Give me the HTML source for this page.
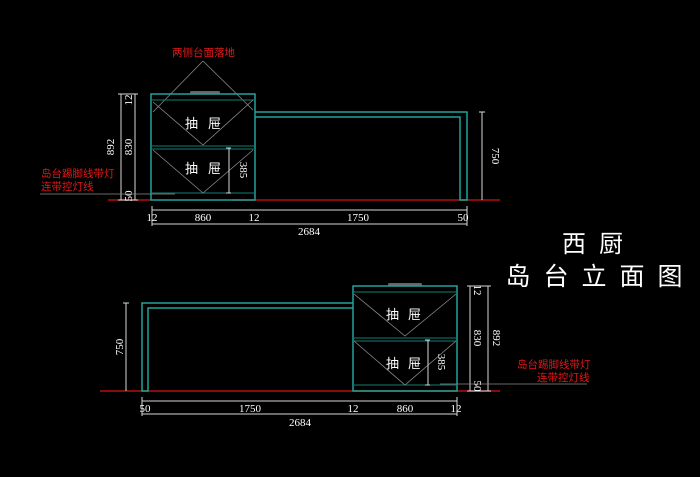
<!DOCTYPE html>
<html><head><meta charset="utf-8"><style>
html,body{margin:0;padding:0;background:#000;width:700px;height:477px;overflow:hidden}
svg{display:block}
.c{stroke:#1fa39a;stroke-width:1.5;fill:none}
.c2{stroke:#167a72;stroke-width:1;fill:none}
.g{stroke:#8a8a8a;stroke-width:0.8;fill:none}
.w{stroke:#d8d8d8;stroke-width:1;fill:none}
.r{stroke:#b01010;stroke-width:1.5}
.t{fill:#fff;font-family:"Liberation Serif",serif;font-size:11px}
.cj{fill:#fff;font-family:"Liberation Sans","Noto Sans CJK SC",sans-serif;font-size:13px}
.rd{fill:#e01818;font-family:"Liberation Sans","Noto Sans CJK SC",sans-serif;font-size:10.5px}
</style></head><body>
<svg width="700" height="477" viewBox="0 0 700 477">
<!-- ===== TOP DRAWING ===== -->
<line class="r" x1="232" y1="200" x2="500" y2="200"/>
<line class="r" x1="108" y1="200" x2="151" y2="200"/>
<text class="rd" x="172" y="56">两侧台面落地</text>
<line class="g" x1="203" y1="61" x2="153" y2="112"/>
<line class="g" x1="203" y1="61" x2="253" y2="110"/>
<rect x="190" y="91" width="30" height="3" rx="1.5" fill="#666"/>
<rect class="c" x="151" y="94" width="104" height="106"/>
<line class="c2" x1="151" y1="100" x2="255" y2="100"/>
<line class="c2" x1="151" y1="146" x2="255" y2="146"/>
<line class="c2" x1="151" y1="149" x2="255" y2="149"/>
<line class="c2" x1="151" y1="193" x2="255" y2="193"/>
<polyline class="g" points="153,102 203,145 253,100"/>
<polyline class="g" points="153,150 203,193 253,150"/>
<text class="cj" x="185" y="128">抽</text><text class="cj" x="208" y="128">屉</text>
<text class="cj" x="185" y="173">抽</text><text class="cj" x="208" y="173">屉</text>
<line class="w" x1="229" y1="148" x2="229" y2="193"/>
<line class="w" x1="226" y1="148" x2="231" y2="148"/>
<line class="w" x1="226" y1="193" x2="231" y2="193"/>
<text class="t" transform="translate(240,170) rotate(90)" text-anchor="middle">385</text>
<!-- long counter -->
<polyline class="c" points="255,112 467,112 467,200 460,200 460,117 255,117"/>
<!-- left dims -->
<line class="w" x1="121" y1="94" x2="121" y2="200"/>
<line class="w" x1="135" y1="94" x2="135" y2="200"/>
<line class="w" x1="118" y1="94" x2="138" y2="94"/>
<line class="w" x1="118" y1="200" x2="138" y2="200"/>
<text class="t" transform="translate(114,147) rotate(-90)" text-anchor="middle">892</text>
<text class="t" transform="translate(132,100) rotate(-90)" text-anchor="middle">12</text>
<text class="t" transform="translate(132,147) rotate(-90)" text-anchor="middle">830</text>
<text class="t" transform="translate(132,196) rotate(-90)" text-anchor="middle">50</text>
<text class="rd" x="41" y="177">岛台踢脚线带灯</text>
<text class="rd" x="41" y="190">连带控灯线</text>
<line class="g" x1="40" y1="194" x2="175" y2="194"/>
<!-- right dim -->
<line class="w" x1="482" y1="112" x2="482" y2="200"/>
<line class="w" x1="479" y1="112" x2="485" y2="112"/>
<text class="t" transform="translate(492,156) rotate(90)" text-anchor="middle">750</text>
<!-- bottom dims -->
<line class="w" x1="152" y1="210" x2="467" y2="210"/>
<line class="w" x1="152" y1="224" x2="467" y2="224"/>
<line class="w" x1="152" y1="206" x2="152" y2="226"/>
<line class="w" x1="467" y1="206" x2="467" y2="226"/>
<text class="t" x="152" y="221" text-anchor="middle">12</text>
<text class="t" x="203" y="221" text-anchor="middle">860</text>
<text class="t" x="254" y="221" text-anchor="middle">12</text>
<text class="t" x="358" y="221" text-anchor="middle">1750</text>
<text class="t" x="463" y="221" text-anchor="middle">50</text>
<text class="t" x="309" y="235" text-anchor="middle">2684</text>
<!-- ===== TITLE ===== -->
<text x="574" y="252" fill="#fff" font-family="Liberation Sans,'Noto Sans CJK SC',sans-serif" font-size="24" text-anchor="middle">西</text>
<text x="611" y="252" fill="#fff" font-family="Liberation Sans,'Noto Sans CJK SC',sans-serif" font-size="24" text-anchor="middle">厨</text>
<g fill="#fff" font-family="Liberation Sans,'Noto Sans CJK SC',sans-serif" font-size="25" text-anchor="middle">
<text x="518" y="285">岛</text><text x="556" y="285">台</text><text x="594" y="285">立</text><text x="632" y="285">面</text><text x="670" y="285">图</text>
</g>
<!-- ===== BOTTOM DRAWING ===== -->
<line class="r" x1="100" y1="391" x2="500" y2="391"/>
<polyline class="c" points="353,303 142,303 142,391 148,391 148,308 353,308"/>
<rect x="388" y="283" width="34" height="3" rx="1.5" fill="#666"/>
<rect class="c" x="353" y="286" width="104" height="105"/>
<line class="c2" x1="353" y1="292" x2="457" y2="292"/>
<line class="c2" x1="353" y1="338" x2="457" y2="338"/>
<line class="c2" x1="353" y1="341" x2="457" y2="341"/>
<line class="c2" x1="353" y1="385" x2="457" y2="385"/>
<polyline class="g" points="354,294 405,336 456,294"/>
<polyline class="g" points="354,341 405,385 456,341"/>
<text class="cj" x="386" y="319">抽</text><text class="cj" x="408" y="319">屉</text>
<text class="cj" x="386" y="368">抽</text><text class="cj" x="408" y="368">屉</text>
<line class="w" x1="428" y1="340" x2="428" y2="385"/>
<line class="w" x1="425" y1="340" x2="430" y2="340"/>
<line class="w" x1="425" y1="385" x2="430" y2="385"/>
<text class="t" transform="translate(438,362) rotate(90)" text-anchor="middle">385</text>
<line class="w" x1="126" y1="303" x2="126" y2="391"/>
<line class="w" x1="123" y1="303" x2="129" y2="303"/>
<text class="t" transform="translate(123,347) rotate(-90)" text-anchor="middle">750</text>
<line class="w" x1="470" y1="286" x2="470" y2="391"/>
<line class="w" x1="488" y1="286" x2="488" y2="391"/>
<line class="w" x1="467" y1="286" x2="491" y2="286"/>
<line class="w" x1="467" y1="391" x2="491" y2="391"/>
<text class="t" transform="translate(474,290) rotate(90)" text-anchor="middle">12</text>
<text class="t" transform="translate(474,338) rotate(90)" text-anchor="middle">830</text>
<text class="t" transform="translate(474,386) rotate(90)" text-anchor="middle">50</text>
<text class="t" transform="translate(493,338) rotate(90)" text-anchor="middle">892</text>
<text class="rd" x="517" y="368">岛台踢脚线带灯</text>
<text class="rd" x="537" y="381">连带控灯线</text>
<line class="g" x1="440" y1="384" x2="587" y2="384"/>
<line class="w" x1="142" y1="401" x2="457" y2="401"/>
<line class="w" x1="142" y1="414" x2="457" y2="414"/>
<line class="w" x1="142" y1="397" x2="142" y2="416"/>
<line class="w" x1="457" y1="397" x2="457" y2="416"/>
<text class="t" x="145" y="412" text-anchor="middle">50</text>
<text class="t" x="250" y="412" text-anchor="middle">1750</text>
<text class="t" x="353" y="412" text-anchor="middle">12</text>
<text class="t" x="405" y="412" text-anchor="middle">860</text>
<text class="t" x="456" y="412" text-anchor="middle">12</text>
<text class="t" x="300" y="426" text-anchor="middle">2684</text>
</svg>
</body></html>
